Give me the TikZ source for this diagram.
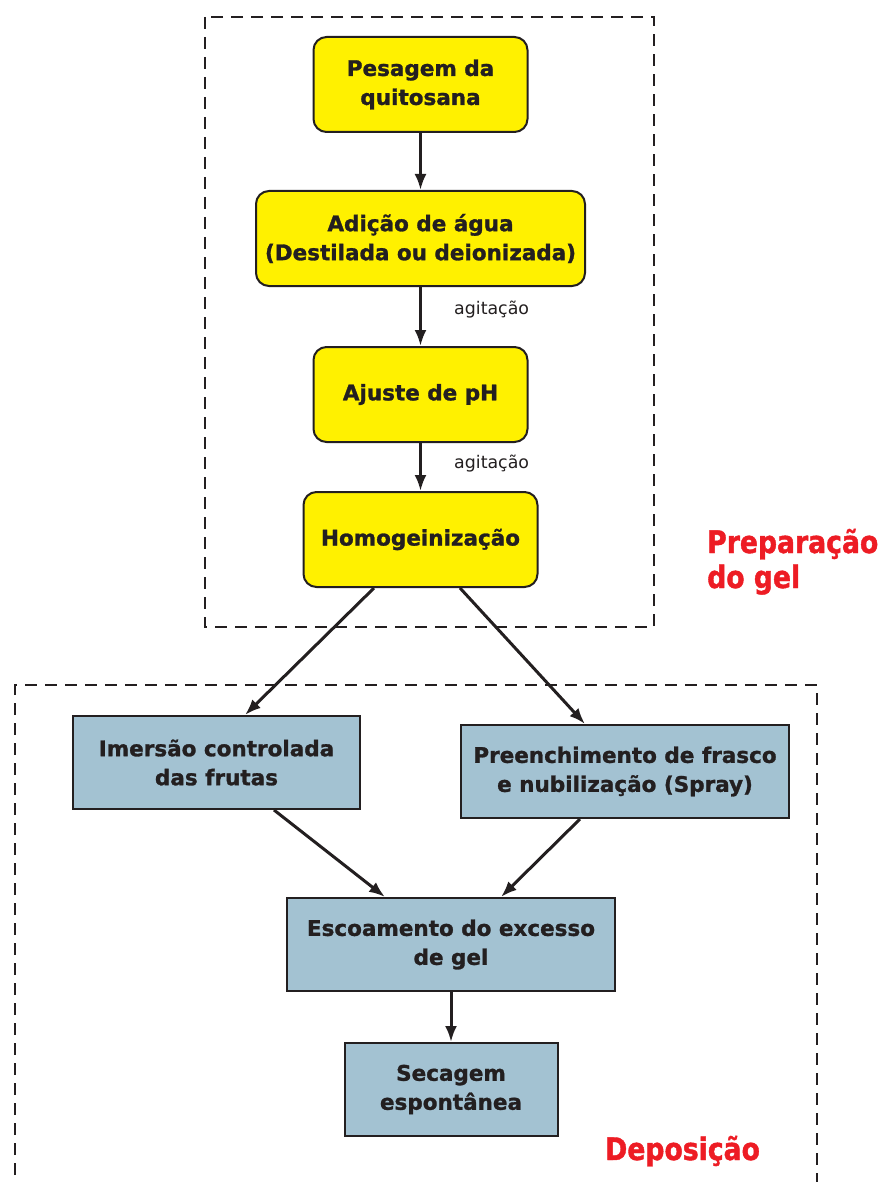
\documentclass[tikz,border=0pt]{standalone}
\usepackage{fontspec}
\setmainfont{DejaVu Sans}[BoldFeatures={FakeBold=1.3}]
\newfontfamily\redfont[FakeStretch=0.86,BoldFeatures={FakeBold=1.3}]{DejaVu Sans}
\usetikzlibrary{arrows.meta,calc}
\definecolor{ink}{HTML}{231F20}
\definecolor{boxyellow}{HTML}{FFF100}
\definecolor{boxblue}{HTML}{A3C2D2}
\definecolor{labelred}{HTML}{ED1C24}
\tikzset{
  boxtext/.style={text=ink, align=center, font=\bfseries\fontsize{21.5}{29}\selectfont, inner sep=0pt},
  ybox/.style={boxtext, draw=ink, line width=2pt, fill=boxyellow, rounded corners=13pt},
  bbox/.style={boxtext, draw=ink, line width=2pt, fill=boxblue},
  flow/.style={draw=ink, line width=3pt, -{Latex[length=16pt,width=12pt]}},
  frame/.style={draw=ink, line width=2.3pt, dash pattern=on 12pt off 8pt},
  steplabel/.style={text=ink, font=\fontsize{17.4}{20}\selectfont, anchor=base west, inner sep=0pt},
  grouplabel/.style={text=labelred, font=\redfont\bfseries\fontsize{31}{35}\selectfont, anchor=base west, inner sep=0pt, align=left}
}
\begin{document}
\begin{tikzpicture}[x=1pt,y=-1pt]
\useasboundingbox (0,0) rectangle (893,1182);
% frames
\draw[frame] (205,17) rectangle (654,627);
\draw[frame] (15,1195) -- (15,685) -- (817,685) -- (817,1195);
% preparation nodes
\node[ybox, minimum width=214pt, minimum height=95pt] (pesagem) at (420.5,84.5) {Pesagem da\\quitosana};
\node[ybox, minimum width=329pt, minimum height=95pt] (adicao) at (420.5,238.5) {Adição de água\\(Destilada ou deionizada)};
\node[ybox, minimum width=214pt, minimum height=95pt] (ajuste) at (420.5,394.5) {Ajuste de pH};
\node[ybox, minimum width=234pt, minimum height=95pt] (homog) at (420.5,539.5) {Homogeinização};
% deposition nodes
\node[bbox, minimum width=287pt, minimum height=93pt] (imersao) at (216.5,762.5) {Imersão controlada\\das frutas};
\node[bbox, minimum width=328pt, minimum height=93pt] (preench) at (625,771.5) {Preenchimento de frasco\\e nubilização (Spray)};
\node[bbox, minimum width=328pt, minimum height=93pt] (escoam) at (451,944.5) {Escoamento do excesso\\de gel};
\node[bbox, minimum width=213pt, minimum height=93pt] (secagem) at (451,1089.5) {Secagem\\espontânea};
% labels
\node[steplabel] (ag1) at (454,314) {agitação};
\node[steplabel] (ag2) at (454,468) {agitação};
\node[grouplabel] (prep) at (707,553) {Preparação};
\node[grouplabel] (prep2) at (707,588) {do gel};
\node[grouplabel] (depo) at (605,1160) {Deposição};
% connectors
\draw[flow] (pesagem.south) -- (adicao.north);
\draw[flow] (adicao.south) -- (ajuste.north);
\draw[flow] (ajuste.south) -- (homog.north);
\draw[flow] ([xshift=-46.5pt]homog.south) -- ([xshift=28.5pt]imersao.north);
\draw[flow] ([xshift=39.5pt]homog.south) -- ([xshift=-40pt]preench.north);
\draw[flow] ([xshift=57.5pt]imersao.south) -- ([xshift=-66pt]escoam.north);
\draw[flow] ([xshift=-45pt]preench.south) -- ([xshift=50pt]escoam.north);
\draw[flow] (escoam.south) -- (secagem.north);
\end{tikzpicture}
\end{document}
